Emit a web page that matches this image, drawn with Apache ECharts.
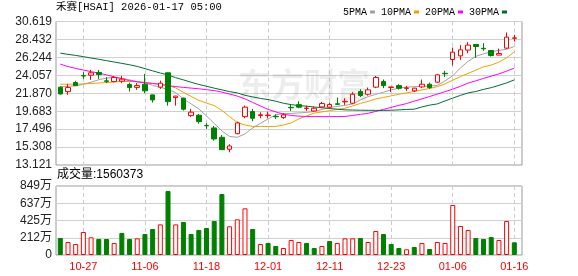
<!DOCTYPE html>
<html>
<head>
<meta charset="utf-8">
<script src="https://cdn.jsdelivr.net/npm/echarts@6/dist/echarts.min.js"></script>
<style>
  html, body { margin: 0; padding: 0; background: #fff; }
  #chart { width: 578px; height: 276px; }
</style>
</head>
<body>
<div id="chart"></div>
<script>
// trading days shown on the x axis
var dates = ['10-22','10-23','10-24','10-27','10-28','10-29','10-30','10-31','11-03','11-04',
    '11-05','11-06','11-07','11-10','11-11','11-12','11-13','11-14','11-17','11-18',
    '11-19','11-20','11-21','11-24','11-25','11-26','11-28','12-01','12-02','12-03',
    '12-04','12-05','12-08','12-09','12-10','12-11','12-12','12-15','12-16','12-17',
    '12-18','12-19','12-22','12-23','12-24','12-26','12-29','12-30','12-31','01-02',
    '01-05','01-06','01-07','01-08','01-09','01-12','01-13','01-14','01-15','01-16'];

var opens = [22.61,22.07,23.17,24.02,24.07,24.40,23.38,23.29,23.34,22.93,
    22.58,22.97,21.67,22.61,24.36,21.34,21.27,19.14,19.19,17.95,
    17.64,16.50,15.04,16.94,19.02,19.63,19.15,19.15,19.05,18.90,
    20.15,20.48,20.02,19.71,20.20,20.17,20.58,20.82,20.65,22.07,
    21.75,22.61,23.29,22.58,22.80,22.46,22.16,22.64,22.97,23.22,
    24.30,25.98,26.43,27.13,27.81,27.35,27.08,26.52,27.37,28.57];
var closes = [21.79,22.56,22.80,23.97,24.36,24.15,23.32,23.78,23.58,22.56,
    22.80,22.16,21.06,23.10,20.85,21.52,19.92,19.56,18.41,17.90,
    16.30,14.99,15.44,18.25,20.17,18.82,19.25,19.20,19.00,19.23,
    20.10,20.17,20.06,20.04,20.61,20.50,20.52,20.88,21.75,21.58,
    22.28,23.78,22.80,22.63,22.48,22.52,22.49,22.97,22.56,24.11,
    24.24,26.88,27.16,27.74,27.57,27.29,26.47,26.71,28.71,28.62];
var lows = [21.70,21.67,22.75,23.62,23.50,23.62,23.10,23.20,23.10,22.07,
    22.28,21.88,20.73,22.40,20.36,20.36,19.75,18.98,18.16,17.52,
    16.09,14.95,14.67,16.87,18.82,18.46,18.82,18.82,18.74,18.74,
    19.71,20.04,19.71,19.63,20.04,20.04,20.45,20.45,20.53,21.42,
    21.58,22.49,22.49,22.00,22.31,22.16,22.00,22.49,22.40,23.10,
    23.87,25.25,25.94,26.76,26.19,27.04,26.35,26.52,27.29,28.18];
var highs = [22.70,23.01,23.38,24.44,24.72,24.72,23.83,23.99,23.99,23.17,
    23.10,24.23,21.70,23.41,24.40,21.55,21.34,19.96,19.35,18.21,
    17.88,16.78,15.65,18.41,20.36,19.96,19.56,19.63,19.31,19.43,
    20.45,20.90,20.36,20.24,20.81,20.72,21.34,21.26,22.00,22.36,
    22.56,23.99,23.54,22.65,22.97,22.77,22.52,23.54,23.17,24.23,
    24.60,27.44,27.74,28.10,27.85,27.98,27.10,27.32,29.28,29.00];
var prevClose = 22.50; // close of the day before the first bar

// volume, in 万 shares
var vols = [209,160,135,283,218,197,197,148,271,197,
    205,258,320,377,787,377,406,258,308,332,
    418,750,353,439,574,320,135,148,111,86,
    185,160,148,86,111,172,148,205,205,209,
    160,295,258,135,86,70,98,148,74,160,
    148,615,357,308,209,197,221,185,418,156.0373];

var ma5 = [22.65,22.71,22.77,22.95,23.22,23.52,23.71,23.80,23.71,23.50,
    23.28,23.13,22.83,22.58,22.34,21.94,21.18,20.57,19.96,19.10,
    18.19,17.27,16.60,16.50,16.91,17.64,18.19,18.74,19.23,19.41,
    19.41,19.47,19.53,19.65,19.90,20.14,20.27,20.39,20.57,21.06,
    21.46,21.73,22.00,22.28,22.49,22.61,22.67,22.71,22.74,22.83,
    23.38,23.99,24.96,25.76,26.37,26.67,26.92,27.10,27.22,27.57];
var ma10 = [22.97,22.97,22.97,23.00,23.06,23.12,23.17,23.24,23.32,23.29,
    23.27,23.22,23.05,22.96,22.83,22.52,21.97,21.48,21.00,20.67,
    20.37,19.78,19.01,18.31,18.00,17.82,17.82,17.82,17.82,18.00,
    18.25,18.74,19.10,19.45,19.59,19.75,19.90,20.04,20.32,20.63,
    20.87,21.18,21.36,21.55,21.75,21.91,22.10,22.28,22.45,22.67,
    23.01,23.46,23.90,24.29,24.68,25.09,25.31,25.66,26.19,26.92];
var ma20 = [25.42,25.12,24.89,24.70,24.50,24.32,24.11,23.87,23.62,23.40,
    23.26,23.15,23.07,22.94,22.79,22.68,22.58,22.50,22.41,22.30,
    22.20,22.00,21.77,21.52,21.18,20.75,20.32,19.90,19.59,19.32,
    19.16,19.08,19.03,19.02,19.02,19.02,19.03,19.04,19.16,19.29,
    19.43,19.65,19.90,20.14,20.39,20.61,20.91,21.18,21.47,21.77,
    22.06,22.38,22.71,23.11,23.38,23.68,23.95,24.23,24.56,24.93];
var ma30 = [26.76,26.61,26.48,26.33,26.16,26.01,25.84,25.68,25.51,25.34,
    25.14,24.87,24.60,24.33,24.09,23.77,23.50,23.21,22.94,22.72,
    22.49,22.28,22.07,21.91,21.62,21.42,21.24,21.09,20.90,20.65,
    20.48,20.37,20.29,20.19,20.11,20.01,19.92,19.84,19.82,19.80,
    19.79,19.78,19.78,19.80,19.84,19.89,19.93,20.20,20.42,20.57,
    20.93,21.28,21.61,21.91,22.08,22.34,22.55,22.83,23.13,23.50];

var priceTicks = ['13.121','15.308','17.496','19.683','21.870','24.057','26.244','28.432','30.619'];
var volTicks = ['0','212万','425万','637万','849万'];

var PRICE_MIN = 13.121;
var PRICE_STEP = PRICE_MIN / 6;
var PRICE_MAX = PRICE_MIN + 8 * PRICE_STEP;
var VOL_MAX = 849;
var VOL_STEP = VOL_MAX / 4;

var RED = '#ff0000';
var GREEN = '#008000';
var maColors = ['#a0a0a0', '#f0a000', '#ff00ff', '#006e33'];

var chart = echarts.init(document.getElementById('chart'));

// candles: [open, close, low, high]
var candles = opens.map(function(o, i) { return [o, closes[i], lows[i], highs[i]]; });

// volume bars coloured by change against the previous close
var volData = vols.map(function(v, i) {
    var ref = i === 0 ? prevClose : closes[i - 1];
    var up = closes[i] >= ref;
    return {
        value: v,
        itemStyle: up
            ? {color: '#fff', borderColor: RED, borderWidth: 1}
            : {color: GREEN, borderColor: GREEN, borderWidth: 1}
    };
});

var showTick = function(idx) { return (idx - 3) % 8 === 0; };

var maSeries = [['5PMA', ma5], ['10PMA', ma10], ['20PMA', ma20], ['30PMA', ma30]].map(function(m, k) {
    return {
        name: m[0],
        type: 'line',
        xAxisIndex: 0,
        yAxisIndex: 0,
        data: m[1],
        symbol: 'none',
        color: maColors[k],
        lineStyle: {width: 1, color: maColors[k]},
        z: 3,
        clip: false
    };
});

var option = {
    animation: false,
    legend: {
        data: ['5PMA', '10PMA', '20PMA', '30PMA'],
        left: 338,
        top: 2,
        align: 'right',
        icon: 'rect',
        itemWidth: 5,
        itemHeight: 3,
        itemGap: 6,
        selectedMode: false,
        textStyle: {fontFamily: '"Liberation Mono", monospace', fontSize: 10, color: '#000', padding: [0, -2, 0, 0]}
    },
    grid: [
        // data grids: category centres run from first to last bar
        {left: 60.3, width: 454, top: 21.5, height: 143.5, containLabel: false},
        {left: 60.3, width: 454, top: 186, height: 69, containLabel: false},
        // frames with border and horizontal lines
        {left: 56, width: 466, top: 21.5, height: 143.5, show: true, borderColor: '#999', borderWidth: 1},
        {left: 56, width: 466, top: 186, height: 69, show: true, borderColor: '#999', borderWidth: 1}
    ],
    xAxis: [
        {
            type: 'category', gridIndex: 0, data: dates, boundaryGap: false,
            axisLine: {show: false}, axisTick: {show: false}, axisLabel: {show: false},
            splitLine: {show: true, interval: showTick, lineStyle: {color: '#ccc', type: [4, 3]}}
        },
        {
            type: 'category', gridIndex: 1, data: dates, boundaryGap: false,
            axisLine: {show: false}, axisTick: {show: false},
            axisLabel: {
                interval: showTick, color: RED, margin: 6,
                fontFamily: '"Liberation Sans", Arial', fontSize: 11
            },
            splitLine: {show: true, interval: showTick, lineStyle: {color: '#ccc', type: [4, 3]}}
        },
        {type: 'value', gridIndex: 2, min: 0, max: 1, show: false},
        {type: 'value', gridIndex: 3, min: 0, max: 1, show: false}
    ],
    yAxis: [
        {type: 'value', gridIndex: 0, min: PRICE_MIN, max: PRICE_MAX, show: false},
        {type: 'value', gridIndex: 1, min: 0, max: VOL_MAX, show: false},
        {
            type: 'value', gridIndex: 2, min: PRICE_MIN, max: PRICE_MAX, interval: PRICE_STEP,
            axisLine: {show: false}, axisTick: {show: false},
            splitLine: {lineStyle: {color: '#d0d0d0'}},
            axisLabel: {
                margin: 4, color: '#222', fontFamily: '"Liberation Sans", Arial', fontSize: 12,
                formatter: function(v) { return priceTicks[Math.round((v - PRICE_MIN) / PRICE_STEP)]; }
            }
        },
        {
            type: 'value', gridIndex: 3, min: 0, max: VOL_MAX, interval: VOL_STEP,
            axisLine: {show: false}, axisTick: {show: false},
            splitLine: {lineStyle: {color: '#d0d0d0'}},
            axisLabel: {
                margin: 4, color: '#222', fontFamily: '"Liberation Sans", "Noto Sans CJK SC"', fontSize: 12,
                formatter: function(v) { return volTicks[Math.round(v / VOL_STEP)]; }
            }
        }
    ],
    graphic: [
        {
            type: 'text', left: 56, top: 2, z: 10,
            style: {
                text: '禾赛[HSAI] 2026-01-17 05:00',
                font: '10.5px "Liberation Mono", "Noto Sans CJK SC"',
                fill: '#000'
            }
        },
        {
            type: 'text', left: 57, top: 169, z: 10,
            style: {
                text: '成交量:' + Math.round(vols[vols.length - 1] * 10000),
                font: '12px "Liberation Sans", "Noto Sans CJK SC"',
                fill: '#000'
            }
        },
        {
            type: 'text', left: 238, top: 68, z: 1,
            style: {
                text: '东方财富',
                font: 'bold 33px "Noto Sans CJK SC"',
                fill: 'rgba(0,0,0,0.07)'
            }
        }
    ],
    series: [
        {
            name: 'K',
            type: 'candlestick',
            xAxisIndex: 0,
            yAxisIndex: 0,
            data: candles,
            barWidth: 5,
            clip: false,
            z: 4,
            itemStyle: {
                color: '#fff',
                color0: GREEN,
                borderColor: RED,
                borderColor0: GREEN,
                borderWidth: 1
            }
        }
    ].concat(maSeries).concat([
        {
            name: 'VOL',
            type: 'bar',
            xAxisIndex: 1,
            yAxisIndex: 1,
            data: volData,
            barWidth: 5,
            clip: false
        }
    ])
};

chart.setOption(option);
</script>
</body>
</html>
